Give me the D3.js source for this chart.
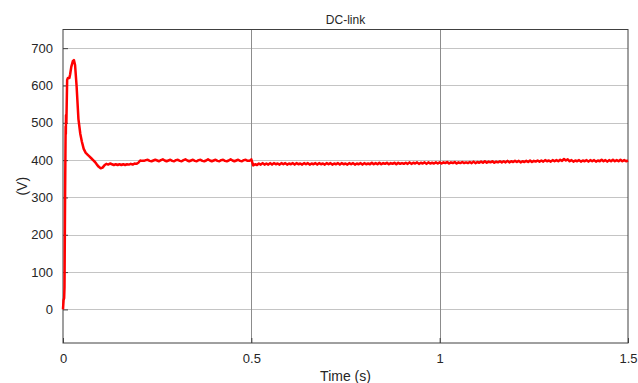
<!DOCTYPE html>
<html>
<head>
<meta charset="utf-8">
<script src="https://cdn.jsdelivr.net/npm/d3@7"></script>
<style>
  body { margin: 0; background: #fff; }
  svg { display: block; font-family: "Liberation Sans", Arial, sans-serif; }
</style>
</head>
<body>
<svg id="chart" width="638" height="383"></svg>
<script>
// start-up transient, [time (s), voltage (V)]
var transientT = [0, 0.0015, 0.003, 0.004, 0.0055, 0.007, 0.0075, 0.008, 0.009, 0.011,
  0.013, 0.017, 0.019, 0.022, 0.026, 0.029, 0.032, 0.036, 0.041, 0.046,
  0.05, 0.055, 0.06, 0.065, 0.07, 0.075, 0.08, 0.085, 0.09, 0.095,
  0.1, 0.105, 0.11, 0.115, 0.12, 0.125, 0.13, 0.135, 0.14, 0.145,
  0.15, 0.155, 0.16, 0.165, 0.17, 0.175, 0.18, 0.185, 0.19, 0.195,
  0.2, 0.205, 0.21];
var transientV = [0, 25, 30, 60, 300, 490, 470, 520, 500, 615,
  620, 620, 630, 650, 665, 668, 655, 600, 510, 470,
  450, 430, 420, 415, 410, 405, 400, 395, 388, 382,
  378, 380, 386, 390, 388, 391, 389, 387, 389, 387,
  389, 387, 389, 387, 389, 388, 390, 388, 391, 390,
  393, 399, 398];

// steady state, sampled every 5 ms
var sampleStep = 0.005;
var rippleAStart = 0.215; // 0.215 .. 0.5
var rippleA = [398, 400, 401, 398, 397, 399, 401, 399, 397, 400,
  402, 399, 397, 399, 401, 398, 397, 400, 401, 398,
  397, 400, 402, 399, 397, 399, 401, 398, 397, 400,
  401, 398, 397, 399, 402, 399, 397, 399, 401, 398,
  397, 400, 401, 398, 397, 399, 402, 399, 397, 399,
  401, 398, 397, 400, 401, 398, 398, 402];
var rippleBStart = 0.505; // 0.505 .. 1.5
var rippleB = [386, 389, 387, 391, 388, 392, 388, 391, 388, 392,
  388, 392, 389, 391, 388, 392, 389, 392, 388, 391,
  389, 392, 388, 392, 389, 391, 388, 392, 389, 392,
  388, 391, 389, 392, 388, 392, 389, 391, 388, 392,
  389, 392, 388, 391, 389, 392, 388, 392, 389, 391,
  388, 392, 389, 392, 388, 391, 389, 392, 388, 392,
  389, 391, 389, 393, 389, 392, 389, 393, 389, 392,
  390, 393, 389, 392, 390, 393, 389, 393, 390, 392,
  390, 393, 390, 394, 390, 393, 391, 394, 390, 393,
  391, 394, 390, 394, 391, 393, 391, 394, 391, 394,
  391, 394, 392, 395, 391, 394, 392, 395, 391, 394,
  392, 395, 392, 394, 392, 395, 392, 396, 392, 395,
  393, 396, 393, 397, 393, 396, 394, 397, 393, 396,
  394, 397, 394, 397, 394, 398, 394, 397, 395, 398,
  395, 398, 394, 397, 395, 398, 395, 399, 395, 398,
  396, 399, 396, 399, 396, 400, 397, 399, 396, 400,
  397, 400, 397, 401, 398, 403, 399, 402, 397, 400,
  396, 399, 397, 400, 396, 399, 397, 400, 396, 400,
  397, 400, 396, 399, 397, 401, 397, 400, 396, 400,
  397, 401, 397, 400, 397, 401, 397, 400, 397, 399];

var xTicks = [0, 0.5, 1, 1.5];
var yTicks = [0, 100, 200, 300, 400, 500, 600, 700];

var points = [];
transientT.forEach(function (t, i) { points.push([t, transientV[i]]); });
rippleA.forEach(function (v, i) { points.push([rippleAStart + i * sampleStep, v]); });
rippleB.forEach(function (v, i) { points.push([rippleBStart + i * sampleStep, v]); });

var svg = d3.select("#chart");
var pLeft = 63, pRight = 628, pTop = 29.5, pBottom = 343;

var x = d3.scaleLinear().domain([0, 1.5]).range([pLeft, pRight]);
var y = d3.scaleLinear().domain([-90, 750]).range([pBottom, pTop]);

// grid
svg.append("g")
  .selectAll("line")
  .data(yTicks)
  .enter()
  .append("line")
  .attr("x1", pLeft)
  .attr("x2", pRight)
  .attr("y1", function (d) { return Math.round(y(d)) + 0.5; })
  .attr("y2", function (d) { return Math.round(y(d)) + 0.5; })
  .attr("stroke", "#c4c4c4");

svg.append("g")
  .selectAll("line")
  .data(xTicks.slice(1, -1))
  .enter()
  .append("line")
  .attr("x1", function (d) { return Math.round(x(d)) + 0.5; })
  .attr("x2", function (d) { return Math.round(x(d)) + 0.5; })
  .attr("y1", pTop)
  .attr("y2", pBottom)
  .attr("stroke", "#8c8c8c");

// axes, ticks pointing inwards
var xAxis = svg.append("g")
  .attr("transform", "translate(0," + pBottom + ")")
  .call(d3.axisBottom(x).tickValues(xTicks).tickFormat(d3.format("~g")).tickSize(-5).tickPadding(11));
var yAxis = svg.append("g")
  .attr("transform", "translate(" + pLeft + ",0)")
  .call(d3.axisLeft(y).tickValues(yTicks).tickSize(-5).tickPadding(10));

[xAxis, yAxis].forEach(function (a) {
  a.select(".domain").remove();
  a.selectAll("line").attr("stroke", "#404040");
  a.selectAll("text")
    .attr("fill", "#262626")
    .style("font-family", "'Liberation Sans', Arial, sans-serif")
    .style("font-size", "13px");
});

svg.append("rect")
  .attr("x", pLeft)
  .attr("y", pTop)
  .attr("width", pRight - pLeft)
  .attr("height", pBottom - pTop)
  .attr("fill", "none")
  .attr("stroke", "#404040");

// curve
var line = d3.line()
  .x(function (d) { return x(d[0]); })
  .y(function (d) { return y(d[1]); });

svg.append("path")
  .datum(points)
  .attr("d", line)
  .attr("fill", "none")
  .attr("stroke", "#ff0000")
  .attr("stroke-width", 2.5)
  .attr("stroke-linejoin", "round");

// labels
svg.append("text")
  .attr("x", (pLeft + pRight) / 2)
  .attr("y", 24)
  .attr("text-anchor", "middle")
  .attr("font-size", 12)
  .attr("fill", "#262626")
  .text("DC-link");

svg.append("text")
  .attr("x", (pLeft + pRight) / 2)
  .attr("y", 381)
  .attr("text-anchor", "middle")
  .attr("font-size", 14)
  .attr("fill", "#262626")
  .text("Time (s)");

svg.append("text")
  .attr("transform", "translate(27," + (pTop + pBottom) / 2 + ") rotate(-90)")
  .attr("text-anchor", "middle")
  .attr("font-size", 14)
  .attr("fill", "#262626")
  .text("(V)");
</script>
</body>
</html>
